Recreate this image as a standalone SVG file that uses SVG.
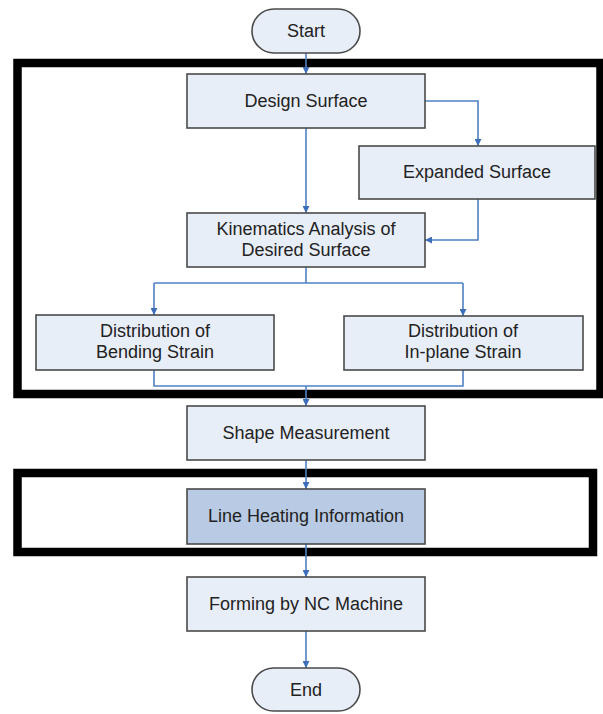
<svg xmlns="http://www.w3.org/2000/svg" width="603" height="714" viewBox="0 0 603 714">
  <style>
    .box { fill: #e8eef8; stroke: #4a4a4a; stroke-width: 1.6; }
    .hot { fill: #b9cbe4; }
    .frame { fill: none; stroke: #000; stroke-width: 8.5; }
    .lbl { font-family: "Liberation Sans", Arial, sans-serif; font-size: 18px; fill: #222; text-anchor: middle; }
    .conn { fill: none; stroke: #4f81c4; stroke-width: 1.6; }
  </style>
  <defs>
    <marker id="arrow" viewBox="0 0 10 10" refX="10" refY="5" markerWidth="7" markerHeight="7" markerUnits="userSpaceOnUse" orient="auto">
      <path d="M0,0 L10,5 L0,10 Z" fill="#3d6fb8"/>
    </marker>
  </defs>
  <rect width="603" height="714" fill="#ffffff"/>

  <!-- grouping frames -->
  <g id="frames">
    <rect class="frame" x="17.5" y="63" width="583" height="331"/>
    <rect class="frame" x="17.5" y="473" width="575.5" height="79"/>
  </g>

  <!-- connectors -->
  <g id="connectors">
    <path class="conn" d="M306,53 V74" marker-end="url(#arrow)"/>
    <path class="conn" d="M306,128 V213" marker-end="url(#arrow)"/>
    <path class="conn" d="M425,101 H478 V146" marker-end="url(#arrow)"/>
    <path class="conn" d="M478,199 V240 H425" marker-end="url(#arrow)"/>
    <path class="conn" d="M306,267 V283"/>
    <path class="conn" d="M154,283 H463"/>
    <path class="conn" d="M154,283 V315" marker-end="url(#arrow)"/>
    <path class="conn" d="M463,283 V316" marker-end="url(#arrow)"/>
    <path class="conn" d="M154,370 V386 H463 V370"/>
    <path class="conn" d="M306,386 V406" marker-end="url(#arrow)"/>
    <path class="conn" d="M306,460 V489" marker-end="url(#arrow)"/>
    <path class="conn" d="M306,544 V577" marker-end="url(#arrow)"/>
    <path class="conn" d="M306,631 V668" marker-end="url(#arrow)"/>
  </g>

  <g id="start">
    <rect class="box" x="252" y="9" width="108" height="44" rx="22"/>
    <text class="lbl" x="306" y="37">Start</text>
  </g>
  <g id="design-surface">
    <rect class="box" x="187" y="74" width="238" height="54"/>
    <text class="lbl" x="306" y="107">Design Surface</text>
  </g>
  <g id="expanded-surface">
    <rect class="box" x="359" y="146" width="236" height="53"/>
    <text class="lbl" x="477" y="178">Expanded Surface</text>
  </g>
  <g id="kinematics">
    <rect class="box" x="187" y="213" width="238" height="54"/>
    <text class="lbl" x="306" y="235">Kinematics Analysis of</text>
    <text class="lbl" x="306" y="256">Desired Surface</text>
  </g>
  <g id="bending-strain">
    <rect class="box" x="36" y="315" width="238" height="55"/>
    <text class="lbl" x="155" y="337">Distribution of</text>
    <text class="lbl" x="155" y="358">Bending Strain</text>
  </g>
  <g id="inplane-strain">
    <rect class="box" x="344" y="316" width="239" height="54"/>
    <text class="lbl" x="463" y="337">Distribution of</text>
    <text class="lbl" x="463" y="358">In-plane Strain</text>
  </g>
  <g id="shape-measurement">
    <rect class="box" x="187" y="406" width="238" height="54"/>
    <text class="lbl" x="306" y="439">Shape Measurement</text>
  </g>
  <g id="line-heating">
    <rect class="box hot" x="187" y="489" width="238" height="55"/>
    <text class="lbl" x="306" y="522">Line Heating Information</text>
  </g>
  <g id="forming">
    <rect class="box" x="187" y="577" width="238" height="54"/>
    <text class="lbl" x="306" y="610">Forming by NC Machine</text>
  </g>
  <g id="end">
    <rect class="box" x="252" y="668" width="108" height="43" rx="21.5"/>
    <text class="lbl" x="306" y="696">End</text>
  </g>
</svg>
